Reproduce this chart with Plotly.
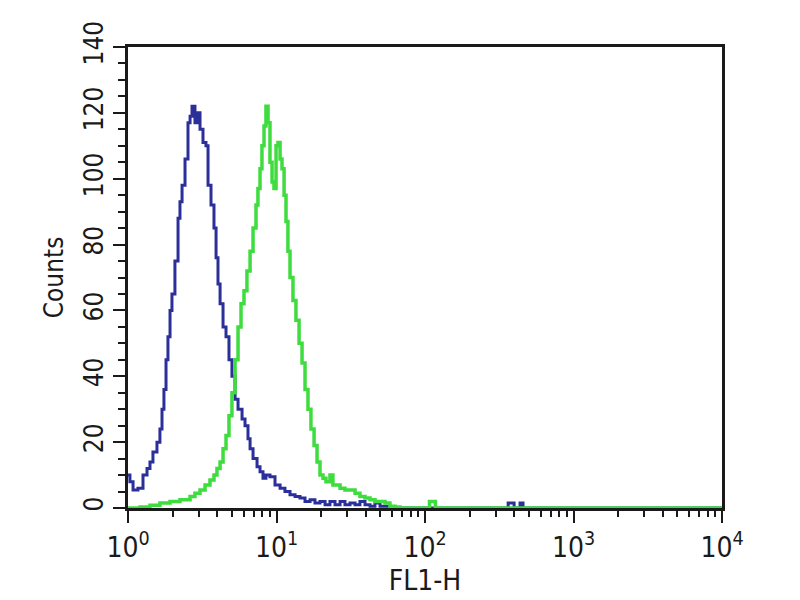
import plotly.graph_objects as go

# FL1-H positions in log10 decades, and counts
blue_log = [0.000, 0.013, 0.034, 0.067, 0.101, 0.128, 0.148, 0.168, 0.195, 0.215,
            0.229, 0.242, 0.256, 0.269, 0.283, 0.296, 0.316, 0.337, 0.350, 0.364,
            0.384, 0.404, 0.418, 0.431, 0.451, 0.471, 0.485, 0.505, 0.525, 0.539,
            0.559, 0.579, 0.593, 0.606, 0.620, 0.640, 0.660, 0.680, 0.700, 0.721,
            0.741, 0.768, 0.788, 0.808, 0.822, 0.842, 0.869, 0.889, 0.909, 0.929,
            0.956, 0.990, 1.024, 1.057, 1.091, 1.125, 1.158, 1.192, 1.226, 1.259,
            1.293, 1.327, 1.360, 1.394, 1.428, 1.461, 1.495, 1.529, 1.562, 1.596,
            1.630, 1.663, 1.697, 1.731, 1.764, 2.000, 2.530, 2.560, 2.600, 2.640,
            2.660, 3.000, 4.000]
blue_counts = [10, 8, 5.5, 6, 10, 12, 14, 17, 20, 24,
               30, 36, 45, 52, 60, 65, 75, 88, 93, 98,
               106, 117, 119, 122, 117, 120, 115, 111, 110, 98,
               92, 85, 76, 68, 62, 55, 52, 45, 40, 33,
               30, 27, 25, 21, 18, 15, 12.5, 11, 9, 10,
               9.5, 7, 6, 5, 4, 3.5, 3, 2, 2.5, 1.5,
               2, 1, 2, 1, 2, 1, 1.5, 1, 2, 1,
               0.5, 1.5, 0.5, 0.5, 0, 0, 0, 1.5, 0, 1.5,
               0, 0, 0]

green_log = [0.000, 0.081, 0.148, 0.215, 0.283, 0.350, 0.418, 0.451, 0.485, 0.519,
             0.552, 0.579, 0.599, 0.620, 0.640, 0.660, 0.680, 0.700, 0.721, 0.741,
             0.761, 0.781, 0.801, 0.822, 0.842, 0.862, 0.875, 0.889, 0.902, 0.916,
             0.929, 0.943, 0.956, 0.970, 0.983, 0.997, 1.010, 1.024, 1.037, 1.051,
             1.064, 1.077, 1.091, 1.111, 1.131, 1.152, 1.172, 1.192, 1.212, 1.232,
             1.253, 1.273, 1.293, 1.313, 1.333, 1.360, 1.380, 1.401, 1.428, 1.461,
             1.495, 1.529, 1.562, 1.596, 1.630, 1.663, 1.697, 1.731, 1.764, 1.798,
             1.832, 1.966, 2.030, 2.070, 4.000]
green_counts = [0, 0.3, 0.8, 1.5, 2, 2.5, 3.5, 4.5, 5.5, 7,
                8.5, 10, 12, 14, 18, 22, 28, 35, 45, 55,
                62, 66, 72, 78, 85, 92, 97, 103, 110, 116,
                122, 117, 105, 99, 97, 110, 111, 106, 103, 95,
                87, 78, 70, 63, 57, 50, 44, 36, 30, 24,
                19, 14, 10, 9, 8, 10, 7, 7, 6, 5.5,
                5.5, 4.5, 3.5, 3, 2.5, 2, 2, 1.5, 0.5, 0.3,
                0, 0, 2, 0, 0]

x_tickvals = [1, 10, 100, 1000, 10000]
x_ticktext = ["10<sup>0</sup>", "10<sup>1</sup>", "10<sup>2</sup>",
              "10<sup>3</sup>", "10<sup>4</sup>"]
y_tickvals = [0, 20, 40, 60, 80, 100, 120, 140]

FONT = "Liberation Sans Narrow, Arial Narrow, DejaVu Sans Condensed, Liberation Sans, sans-serif"
INK = "#1a1a1a"

fig = go.Figure()
fig.add_trace(go.Scatter(
    x=[10 ** v for v in blue_log], y=blue_counts, mode="lines",
    line=dict(color="#2b2f99", width=3, shape="hv"), showlegend=False))
fig.add_trace(go.Scatter(
    x=[10 ** v for v in green_log], y=green_counts, mode="lines",
    line=dict(color="#3fdc3f", width=3.5, shape="hv"), showlegend=False))

fig.update_layout(
    width=792, height=592,
    margin=dict(l=120, r=78, t=39, b=92, autoexpand=False),
    paper_bgcolor="white", plot_bgcolor="white",
    font=dict(family=FONT, size=26, color=INK),
    xaxis=dict(
        type="log", range=[0, 4], tickvals=x_tickvals, ticktext=x_ticktext,
        showgrid=False, zeroline=False, automargin=False,
        showline=True, linecolor=INK, linewidth=3, mirror=True,
        ticks="outside", ticklen=12, tickwidth=2, tickcolor=INK,
        minor=dict(ticks="outside", ticklen=6, tickwidth=2, tickcolor=INK,
                   dtick="D1", showgrid=False),
        title=dict(text="FL1-H", standoff=0, font=dict(size=28)),
        tickfont=dict(size=28),
    ),
    yaxis=dict(
        range=[0, 140], tickvals=y_tickvals, tickangle=-90,
        showgrid=False, zeroline=False, automargin=False,
        showline=True, linecolor=INK, linewidth=3, mirror=True,
        ticks="outside", ticklen=12, tickwidth=2, tickcolor=INK,
        minor=dict(ticks="outside", ticklen=7, tickwidth=2, tickcolor=INK,
                   dtick=5, showgrid=False),
        title=dict(text="Counts", standoff=8, font=dict(size=26)),
        tickfont=dict(size=26),
    ),
)

fig.write_html("out.html")
